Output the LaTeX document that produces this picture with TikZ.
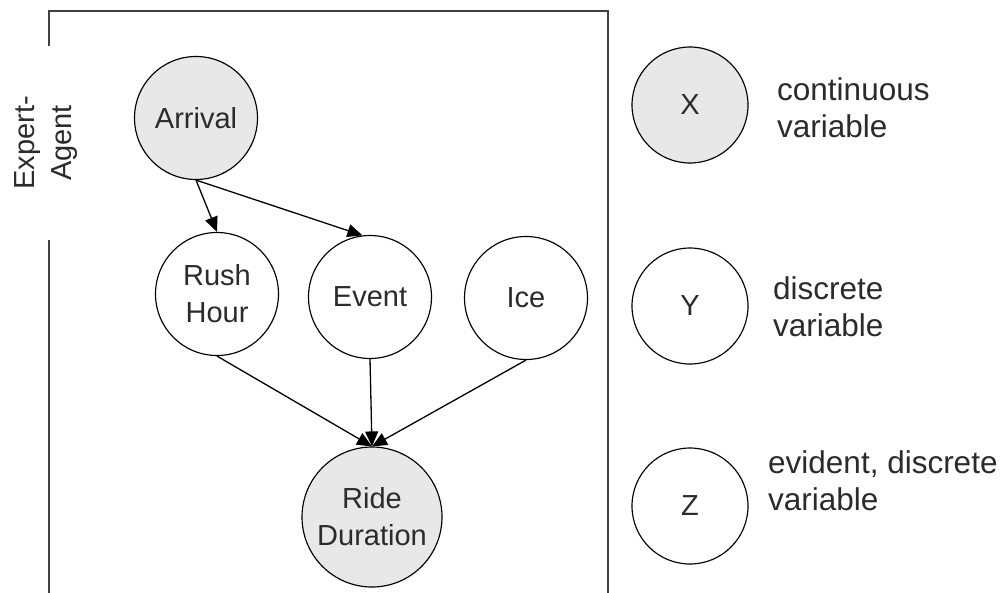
\documentclass[tikz,border=0pt]{standalone}
\usepackage{fontspec}
\setmainfont{Liberation Sans}
\usetikzlibrary{arrows.meta}
\definecolor{shade}{HTML}{E8E8E8}
\definecolor{txt}{HTML}{2B2B2B}
\definecolor{framecol}{HTML}{404040}
\begin{document}
\begin{tikzpicture}[x=1pt,y=-1pt,
  var/.style={circle,draw=black,line width=1.15pt,minimum size=123pt,inner sep=0pt,
    align=center,text=txt,font=\fontsize{29}{37}\selectfont},
  cont/.style={var,fill=shade},
  legendvar/.style={var,minimum size=116pt},
  legendtxt/.style={anchor=west,align=left,inner sep=0pt,text=txt,
    font=\fontsize{31.5}{37}\selectfont},
  edge/.style={-{Triangle[length=15pt,width=13pt]},line width=1.3pt},
  frameline/.style={line width=2pt,draw=framecol}]
\useasboundingbox (0,0) rectangle (1008,592);

% plate frame (left side interrupted by its label)
\coordinate (f1) at (49,46);
\coordinate (f2) at (49,11);
\coordinate (f3) at (608,11);
\coordinate (f4) at (608,593);
\coordinate (g1) at (49,240);
\coordinate (g2) at (49,593);
\draw[frameline] (f1) -- (f2) -- (f3) -- (f4);
\draw[frameline] (g1) -- (g2);
\node[rotate=90,align=center,text=txt,font=\fontsize{29}{37}\selectfont] (plate) at (46,143) {Expert-\\Agent};

% network
\node[cont] (arr) at (196,118) {Arrival};
\node[var] (rush) at (217,294) {Rush\\Hour};
\node[var] (event) at (370,297) {Event};
\node[var] (ice) at (526,298) {Ice};
\node[cont,minimum size=140pt] (ride) at (372,517) {Ride\\Duration};

\draw[edge] (arr.south) -- (rush.north);
\draw[edge] (arr.south) -- (event.97);
\draw[edge] (rush.south) -- (ride.north);
\draw[edge] (event.south) -- (ride.north);
\draw[edge] (ice.south) -- (ride.north);

% legend
\node[legendvar,fill=shade] (lx) at (690,105) {X};
\node[legendvar] (ly) at (690,306) {Y};
\node[legendvar] (lz) at (690,506) {Z};
\node[legendtxt] (tx) at (777,108) {continuous\\variable};
\node[legendtxt] (ty) at (773,307) {discrete\\variable};
\node[legendtxt] (tz) at (768,481) {evident, discrete\\variable};
\end{tikzpicture}
\end{document}
